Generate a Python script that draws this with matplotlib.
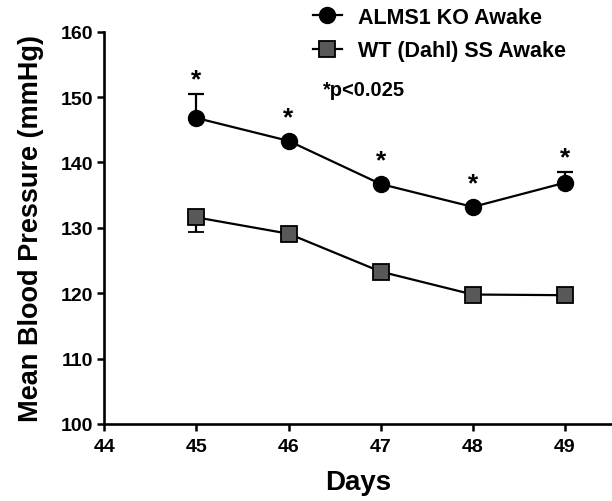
import matplotlib
matplotlib.use("Agg")
import matplotlib.pyplot as plt
from matplotlib.lines import Line2D

days = [45, 46, 47, 48, 49]
ko_mean = [146.8, 143.3, 136.7, 133.2, 136.9]
ko_err_up = [3.6, 0.0, 0.0, 0.0, 1.6]
wt_mean = [131.6, 129.1, 123.3, 119.8, 119.7]
wt_err_down = [2.2, 0.0, 0.0, 0.0, 0.0]
sig_labels = ["*", "*", "*", "*", "*"]

xticks = [44, 45, 46, 47, 48, 49]
yticks = [100, 110, 120, 130, 140, 150, 160]

plt.rcParams['font.family'] = ['Liberation Sans', 'DejaVu Sans']
plt.rcParams['font.weight'] = 'bold'

fig = plt.figure(figsize=(6.12, 5.02), dpi=100)
ax = fig.add_axes([0.1704, 0.1534, 0.8296, 0.7815])

ax.errorbar(days, ko_mean, yerr=[[0]*5, ko_err_up], fmt='-o', color='black',
            markersize=11.5, linewidth=1.6, capsize=6, capthick=1.6, elinewidth=1.6,
            markerfacecolor='black', markeredgecolor='black', zorder=3)
ax.errorbar(days, wt_mean, yerr=[wt_err_down, [0]*5], fmt='-s', color='black',
            markersize=11.5, linewidth=1.6, capsize=6, capthick=1.6, elinewidth=1.6,
            markerfacecolor='#585858', markeredgecolor='black', markeredgewidth=1.3,
            zorder=3)

for d, m, e, s in zip(days, ko_mean, ko_err_up, sig_labels):
    off = 11 if e > 0 else 17
    ax.annotate(s, xy=(d, m + e), xytext=(0, off), textcoords='offset points',
                ha='center', va='center', fontsize=19, fontweight='bold')

ax.set_xlim(44, 49.51)
ax.set_ylim(100, 160)
ax.set_xticks(xticks)
ax.set_yticks(yticks)
ax.tick_params(axis='both', labelsize=14, width=1.8, length=5, direction='out')
ax.tick_params(axis='x', pad=5)
ax.tick_params(axis='y', pad=3)
for lab in ax.get_xticklabels() + ax.get_yticklabels():
    lab.set_fontweight('bold')
ax.spines['top'].set_visible(False)
ax.spines['right'].set_visible(False)
ax.spines['left'].set_linewidth(1.9)
ax.spines['bottom'].set_linewidth(1.9)

ax.set_xlabel('Days', fontsize=20, fontweight='bold', labelpad=10)
ax.set_ylabel('Mean Blood Pressure (mmHg)', fontsize=19.5, fontweight='bold', labelpad=12)

h1 = Line2D([], [], color='black', marker='o', markersize=11.5, linewidth=1.6,
            markerfacecolor='black')
h2 = Line2D([], [], color='black', marker='s', markersize=11.5, linewidth=1.6,
            markerfacecolor='#585858', markeredgewidth=1.3)
leg = fig.legend([h1, h2], ['ALMS1 KO Awake', 'WT (Dahl) SS Awake'],
                 loc='upper left', bbox_to_anchor=(0.511, 0.985), frameon=False,
                 fontsize=15.5, handlelength=1.35, labelspacing=0.6, handletextpad=0.75,
                 borderpad=0, borderaxespad=0)
for t in leg.get_texts():
    t.set_fontweight('bold')

fig.text(323/612, 1 - 90/502, '*p<0.025', fontsize=14.5, fontweight='bold',
         ha='left', va='center')

fig.savefig('out.png', dpi=100)
